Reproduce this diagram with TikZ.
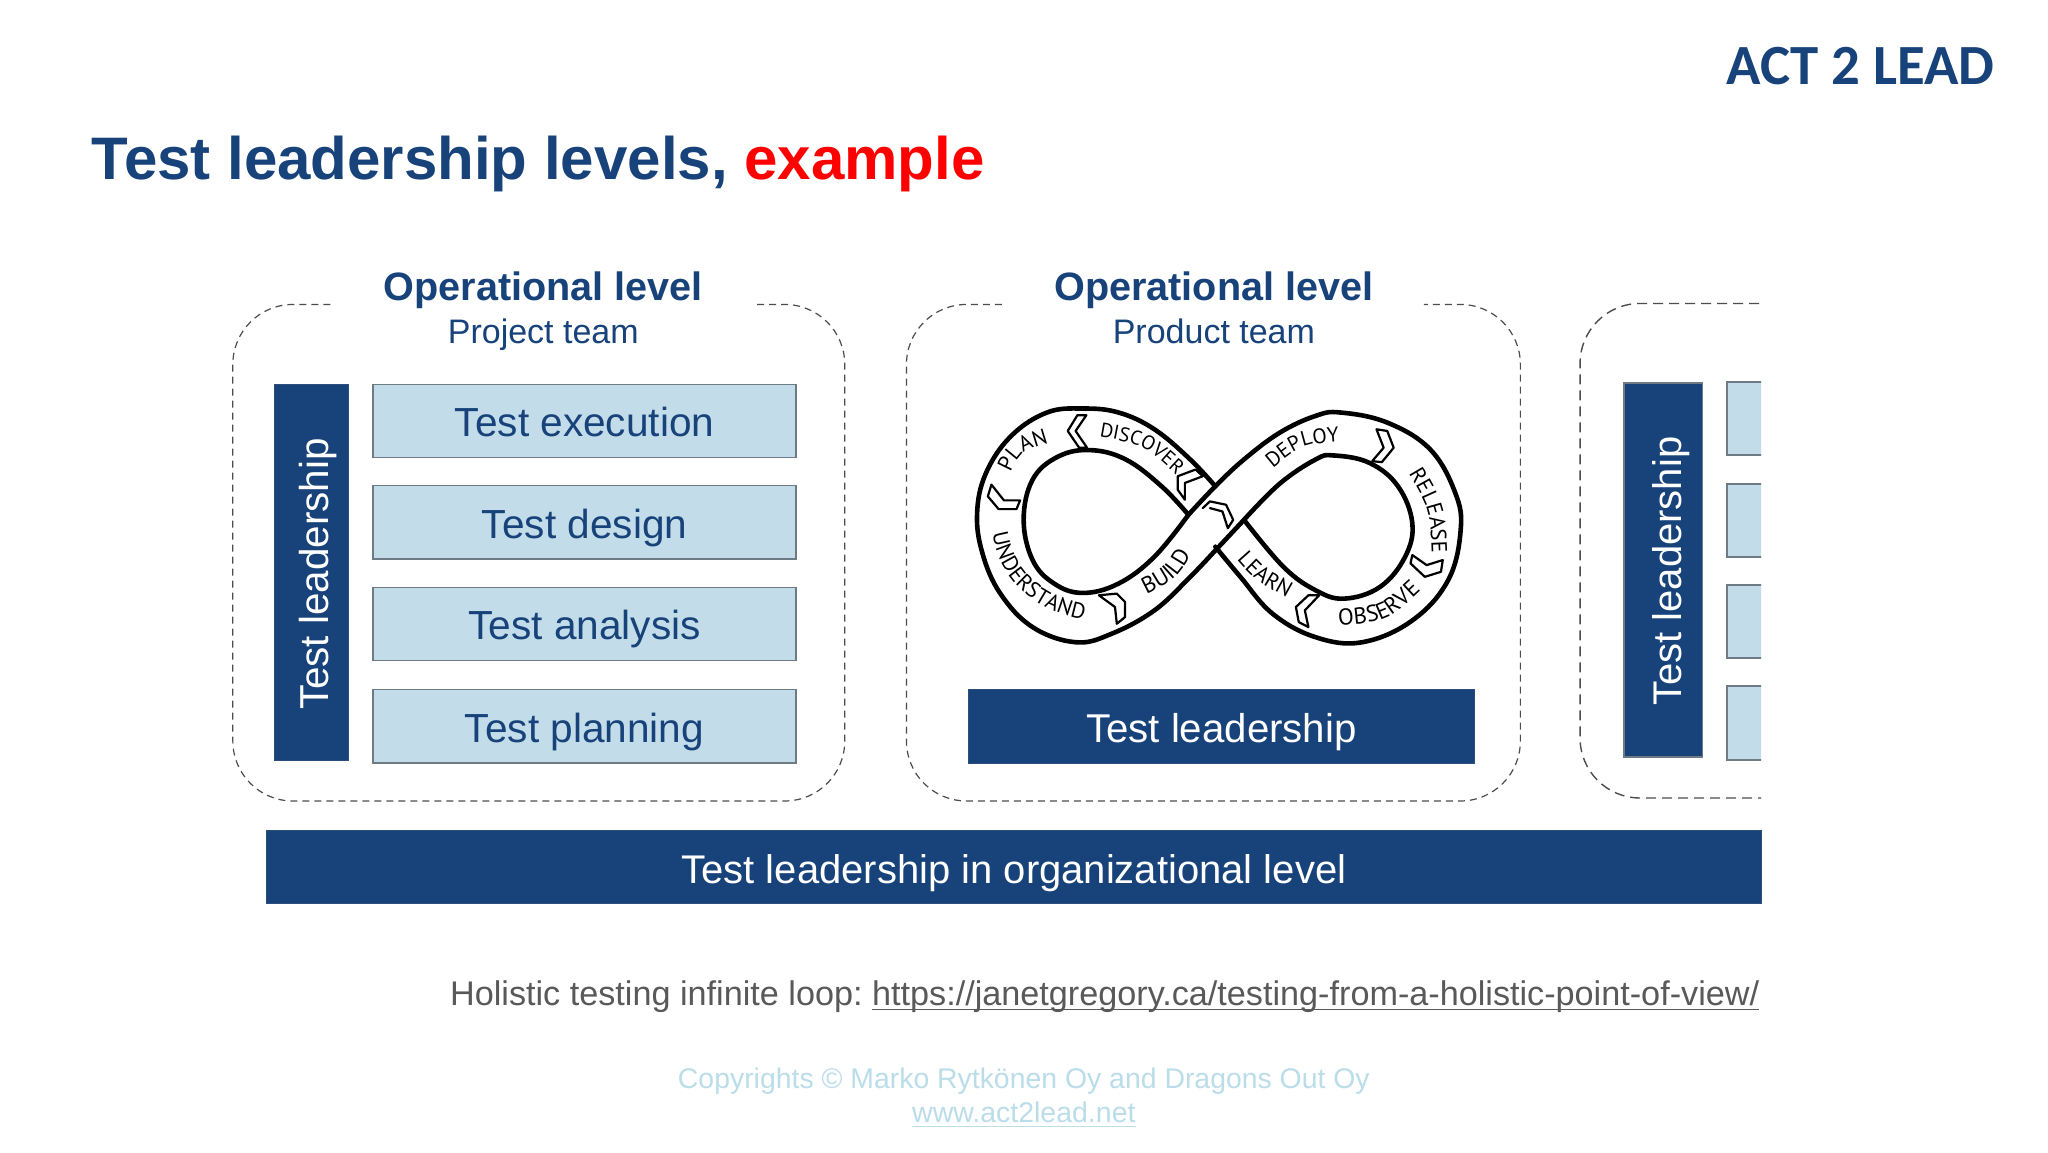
\documentclass[tikz,border=0pt]{standalone}
\usepackage{fontspec}
\setmainfont{Liberation Sans}
\newfontfamily\logofont{Carlito}
\newfontfamily\handfont{PT Sans}[LetterSpace=8]
\usetikzlibrary{decorations.text}
\definecolor{navy}{HTML}{17427A}
\definecolor{paleblue}{HTML}{C3DCE9}
\definecolor{boxedge}{HTML}{6E7B85}
\definecolor{bodygray}{HTML}{595959}
\definecolor{faintblue}{HTML}{BBDDE9}
\newcommand{\fs}[1]{\fontsize{#1}{#1}\selectfont}
\newcommand{\looplabel}[3][11]{\path[decorate,decoration={text along path,text={|\handfont\fontsize{#1}{#1}\selectfont|#2},text align={center}}] #3;}
\newsavebox{\ulbox}
\newcommand{\ulink}[1]{\sbox{\ulbox}{#1}\rlap{\rule[-2.4pt]{\wd\ulbox}{.6pt}}\usebox{\ulbox}}
\tikzset{
  lightbox/.style={draw=boxedge,line width=.7pt,fill=paleblue,text=navy,minimum width=211.6pt,minimum height=36.6pt,inner sep=0pt,text height=17pt,text depth=1pt,font=\fs{20.3}},
  navybar/.style={draw=navy!80!gray,line width=.5pt,fill=navy,text=white,inner sep=0pt,text height=17pt,text depth=1pt,font=\fs{20.1}},
  dashedframe/.style={draw=black!70,line width=.6pt,dash pattern=on 3.5pt off 2.5pt,rounded corners=30pt},
  headline/.style={anchor=base,text=navy,inner sep=0pt,font=\fs{19.8}\bfseries},
  subline/.style={anchor=base,text=navy,inner sep=0pt,font=\fs{17}},
  loopedge/.style={line width=2.3pt,black,line join=round,line cap=round},
  chevron/.style={line width=1.1pt,black,line join=round,line cap=round},
  cutbox/.style={lightbox,line width=1pt,anchor=west,minimum width=60pt,minimum height=36.8pt},
}
\begin{document}
\begin{tikzpicture}[x=.4975pt,y=-.4975pt]
\useasboundingbox[fill=white] (0,0) rectangle (2058.3,1157.8);
% logo and title
\node[anchor=base west,inner sep=0pt,text=navy,font=\logofont\bfseries\fs{28.4}] (logo) at (1735,85) {ACT 2 LEAD};
\node[anchor=base west,inner sep=0pt,text=navy,font=\fs{30}\bfseries] (title) at (92,180) {Test leadership levels, \textcolor{red}{example}};
% frames
\coordinate (f1a) at (332,306); \coordinate (f1b) at (759,306);
\draw[dashedframe] (f1a) -- (234,306) -- (234,805) -- (849,805) -- (849,306) -- (f1b);
\coordinate (f2a) at (1007,306); \coordinate (f2b) at (1431,306);
\draw[dashedframe] (f2a) -- (911,306) -- (911,805) -- (1528,805) -- (1528,306) -- (f2b);
% headings
\node[headline] (h1) at (546,302) {Operational level};
\node[subline] (s1) at (546,345) {Project team};
\node[headline] (h2) at (1220,302) {Operational level};
\node[subline] (s2) at (1220,345) {Product team};
% first team
\node[navybar,minimum width=37pt,minimum height=188pt] (bar1) at (313,575) {};
\node[text=white,rotate=90,inner sep=0pt,font=\fs{20.2}] (bar1t) at (320,577) {Test leadership};
\node[lightbox] (b1) at (587.5,423) {Test execution};
\node[lightbox] (b2) at (587.5,525) {Test design};
\node[lightbox] (b3) at (587.5,627) {Test analysis};
\node[lightbox] (b4) at (587.5,730) {Test planning};
% second team
\node[navybar,minimum width=253.2pt,minimum height=36.8pt] (bar2) at (1227.5,730) {Test leadership};
% third team, cut at its right side
\begin{scope}
\clip (1560,290) rectangle (1770,815);
\draw[draw=black!70,line width=.7pt,dash pattern=on 5pt off 3pt,rounded corners=30pt] (1800,305) -- (1588,305) -- (1588,802) -- (1800,802);
\node[cutbox] (c1) at (1735,420.5) {};
\node[cutbox] (c2) at (1735,523) {};
\node[cutbox] (c3) at (1735,624.5) {};
\node[cutbox] (c4) at (1735,726.5) {};
\end{scope}
\node[navybar,draw=boxedge,line width=.8pt,minimum width=39.3pt,minimum height=187pt] (bar3) at (1671.5,573) {};
\node[text=white,rotate=90,inner sep=0pt,font=\fs{20}] (bar3t) at (1680,574) {Test leadership};
% organisational band
\node[navybar,minimum width=747.2pt,minimum height=36.6pt,font=\fs{20}] (org) at (1019,871.5) {Test leadership in organizational level};
% footer
\node[anchor=base west,inner sep=0pt,text=bodygray,font=\fs{17.1}] (note) at (452,1010.5) {Holistic testing infinite loop:\hspace{-1.6pt} \ulink{https://janetgregory.ca/testing-from-a-holistic-point-of-view/}};
\node[anchor=base,inner sep=0pt,text=faintblue,font=\fs{14.2}] (copy) at (1029,1094) {Copyrights © Marko Rytkönen Oy and Dragons Out Oy};
\node[anchor=base,inner sep=0pt,text=faintblue,font=\fs{14.25}] (web) at (1029,1128) {\ulink{www.act2lead.net}};
% infinity loop
\begin{scope}[shift={(944.2,380.9)},xscale=.36,yscale=.337]
\draw[loopedge] plot[smooth,tension=.65] coordinates {(695,405) (600,530) (500,610) (400,638) (320,610) (260,540) (235,420) (260,300) (330,232) (420,212) (520,240) (620,320) (695,405)};
\draw[loopedge] plot[smooth,tension=.65] coordinates {(850,420) (950,312) (1050,240) (1100,228) (1200,250) (1280,320) (1320,430) (1300,530) (1230,620) (1130,655) (1050,630) (960,560) (850,420)};
\draw[loopedge] plot[smooth,tension=.65] coordinates {(770,320) (700,240) (600,150) (500,100) (400,88) (300,100) (200,170) (130,280) (105,400) (120,520) (170,640) (260,740) (380,785) (480,760) (600,690) (700,590) (780,500) (850,420)};
\draw[loopedge] plot[smooth,tension=.65] coordinates {(695,405) (770,320) (850,240) (950,160) (1050,110) (1120,100) (1250,130) (1370,210) (1440,340) (1455,450) (1420,600) (1320,720) (1180,785) (1050,770) (930,700) (840,590) (770,500)};
% chevrons
\draw[chevron] (410,108) -- (385,108) -- (358,155) -- (390,205) -- (412,205) -- (380,155) -- cycle;
\draw[chevron] (145,315) -- (135,350) -- (165,388) -- (215,388) -- (225,362) -- (180,362) -- cycle;
\draw[chevron] (665,290) -- (715,270) -- (735,290) -- (685,310) -- (685,360) -- (665,330) -- cycle;
\draw[chevron] (735,385) -- (755,365) -- (800,375) -- (820,420) -- (805,445) -- (790,395) -- (755,385);
\draw[chevron] (445,645) -- (495,640) -- (518,665) -- (518,710) -- (495,730) -- (490,680) -- cycle;
\draw[chevron] (1220,150) -- (1250,155) -- (1268,205) -- (1235,248) -- (1208,245) -- (1240,205) -- cycle;
\draw[chevron] (1320,525) -- (1360,555) -- (1405,540) -- (1400,575) -- (1355,590) -- (1315,550) -- cycle;
\draw[chevron] (1060,645) -- (1030,645) -- (995,680) -- (1003,725) -- (1030,740) -- (1020,690) -- cycle;
% words on the loop
\looplabel{PLAN}{(190,300) .. controls (225,215) .. (325,185)}
\looplabel[10]{DISCOVER}{(435,170) .. controls (570,195) .. (670,295)}
\looplabel[10.5]{DEPLOY}{(920,275) .. controls (1010,195) .. (1130,185)}
\looplabel{RELEASE}{(1300,265) .. controls (1370,390) .. (1375,540)}
\looplabel[11.5]{OBSERVE}{(1100,735) .. controls (1250,725) .. (1355,620)}
\looplabel{LEARN}{(815,520) .. controls (880,600) .. (990,665)}
\looplabel[11.5]{BUILD}{(565,650) .. controls (660,600) .. (710,510)}
\looplabel{UNDERSTAND}{(143,405) .. controls (148,590) and (250,700) .. (455,728)}
\end{scope}
\end{tikzpicture}
\end{document}
